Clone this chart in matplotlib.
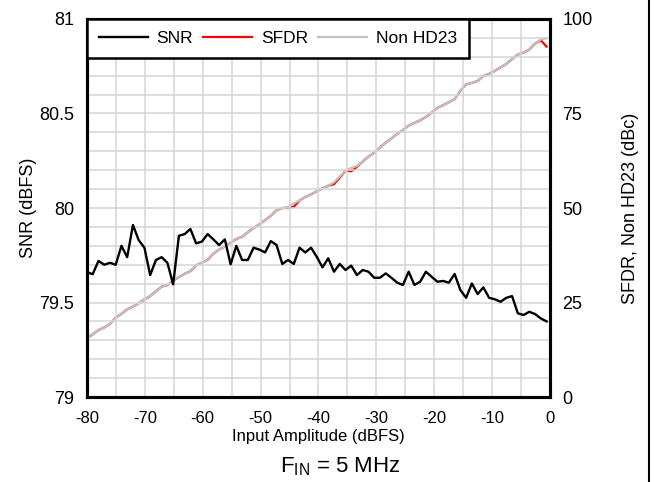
import numpy as np
import matplotlib.pyplot as plt
from matplotlib.lines import Line2D

plt.rcParams['font.family'] = ['Liberation Sans', 'DejaVu Sans']
plt.rcParams['mathtext.fontset'] = 'custom'
plt.rcParams['mathtext.rm'] = 'Liberation Sans'
plt.rcParams['mathtext.it'] = 'Liberation Sans:italic'
plt.rcParams['axes.unicode_minus'] = False

# input amplitude (dBFS), one point per step
amp = np.linspace(-80, -0.6, 81)

snr = [79.66, 79.65, 79.72, 79.70, 79.71, 79.70, 79.80, 79.74, 79.91, 79.83,
       79.79, 79.645, 79.725, 79.74, 79.71, 79.596, 79.853, 79.862, 79.889, 79.813,
       79.822, 79.862, 79.834, 79.804, 79.834, 79.702, 79.80, 79.725, 79.725, 79.79,
       79.78, 79.765, 79.825, 79.804, 79.704, 79.725, 79.704, 79.79, 79.765, 79.79,
       79.742, 79.686, 79.734, 79.663, 79.704, 79.672, 79.695, 79.645, 79.672, 79.663,
       79.631, 79.631, 79.654, 79.631, 79.605, 79.593, 79.663, 79.593, 79.61, 79.663,
       79.636, 79.61, 79.614, 79.605, 79.651, 79.566, 79.525, 79.601, 79.545, 79.58,
       79.525, 79.517, 79.504, 79.525, 79.534, 79.443, 79.434, 79.451, 79.439, 79.416,
       79.40]

non_hd23 = [15.5, 16.6, 17.7, 18.4, 19.3, 21.0, 22.0, 23.2, 23.9, 24.8,
            25.8, 26.7, 28.0, 29.2, 29.6, 30.8, 31.7, 32.6, 33.3, 34.8,
            35.5, 36.3, 37.9, 39.0, 39.8, 40.8, 41.8, 42.4, 43.6, 44.7,
            45.7, 46.8, 47.9, 49.4, 50.0, 50.3, 51.2, 52.0, 52.9, 53.6,
            54.4, 55.2, 55.9, 56.8, 58.3, 59.9, 60.6, 61.1, 62.3, 63.6,
            64.6, 66.0, 67.3, 68.4, 69.6, 70.6, 71.8, 72.5, 73.2, 74.1,
            75.2, 76.5, 77.2, 78.0, 78.8, 81.0, 82.7, 83.1, 83.6, 84.9,
            85.5, 86.3, 87.2, 88.1, 89.4, 90.6, 91.1, 91.9, 93.5, 94.6,
            94.9]

sfdr = [15.5, 16.6, 17.7, 18.4, 19.3, 21.0, 22.0, 23.2, 23.9, 24.8,
        25.8, 26.7, 28.0, 29.2, 29.6, 30.8, 31.7, 32.6, 33.3, 34.8,
        35.5, 36.3, 37.9, 39.0, 39.8, 40.8, 41.8, 42.4, 43.6, 44.7,
        45.7, 46.8, 47.9, 49.4, 50.0, 50.0, 50.3, 52.0, 52.9, 53.6,
        54.4, 55.2, 55.9, 56.3, 58.0, 59.9, 59.7, 60.9, 62.3, 63.6,
        64.6, 66.0, 67.3, 68.4, 69.6, 70.6, 71.8, 72.5, 73.2, 74.1,
        75.2, 76.5, 77.2, 78.0, 78.8, 81.0, 82.7, 83.1, 83.6, 84.9,
        85.5, 86.3, 87.2, 88.1, 89.4, 90.6, 91.1, 91.9, 93.5, 94.4,
        92.7]

fig = plt.figure(figsize=(6.54, 4.82), dpi=100)
ax = fig.add_axes([0.133, 0.1763, 0.708, 0.7843])
ax2 = ax.twinx()

ax.plot(amp, snr, color='black', lw=1.7, label='SNR', zorder=3)
ax2.plot(amp, sfdr, color='#ff0000', lw=1.6, label='SFDR', zorder=2)
ax2.plot(amp, non_hd23, color='#c0c0c0', lw=1.6, label='Non HD23', zorder=3)

ax.set_xlim(-80, 0)
ax.set_ylim(79, 81)
ax2.set_ylim(0, 100)
ax.set_xticks(np.arange(-80, 1, 10))
ax.set_xticks(np.arange(-80, 1, 5), minor=True)
ax.set_yticks(np.arange(79, 81.01, 0.5))
ax.set_yticks(np.arange(79, 81.01, 0.1), minor=True)
ax.set_yticklabels(['79', '79.5', '80', '80.5', '81'])
ax2.set_yticks([0, 25, 50, 75, 100])

ax.grid(True, which='both', color='#d4d4d4', lw=1.1)
ax.set_axisbelow(True)
ax.tick_params(axis='y', which='both', length=0, labelsize=13, pad=9)
ax.tick_params(axis='x', which='both', length=0, labelsize=12, pad=10)
ax2.tick_params(which='both', length=0, labelsize=13, pad=9)

for a in (ax, ax2):
    for s in a.spines.values():
        s.set_linewidth(2.2)
        s.set_color('black')

ax.set_xlabel('Input Amplitude (dBFS)', fontsize=12, labelpad=2)
ax.set_ylabel('SNR (dBFS)', fontsize=13, labelpad=2)
ax2.set_ylabel('SFDR, Non HD23 (dBc)', fontsize=13, rotation=90, labelpad=21)

# legend in the SNR axes, on top of everything
ax.set_zorder(ax2.get_zorder() + 1)
ax.patch.set_visible(False)
h1, l1 = ax.get_legend_handles_labels()
h2, l2 = ax2.get_legend_handles_labels()
leg = ax.legend(h1 + h2, l1 + l2, loc='upper left', bbox_to_anchor=(0, 1),
                ncol=3, fontsize=12.5, frameon=True, fancybox=False, shadow=False,
                borderaxespad=0, handlelength=2.8, columnspacing=0.6,
                handletextpad=0.5, borderpad=0.7)
leg.get_frame().set_edgecolor('black')
leg.get_frame().set_linewidth(1.8)
leg.get_frame().set_alpha(1)

fig.text(0.52, 0.02, r'F$_{\mathrm{IN}}$ = 5 MHz', ha='center', fontsize=16)
fig.add_artist(Line2D([0.993, 0.993], [0, 1], color='black', lw=1.5,
                      transform=fig.transFigure))

fig.savefig('out.png', dpi=100)
